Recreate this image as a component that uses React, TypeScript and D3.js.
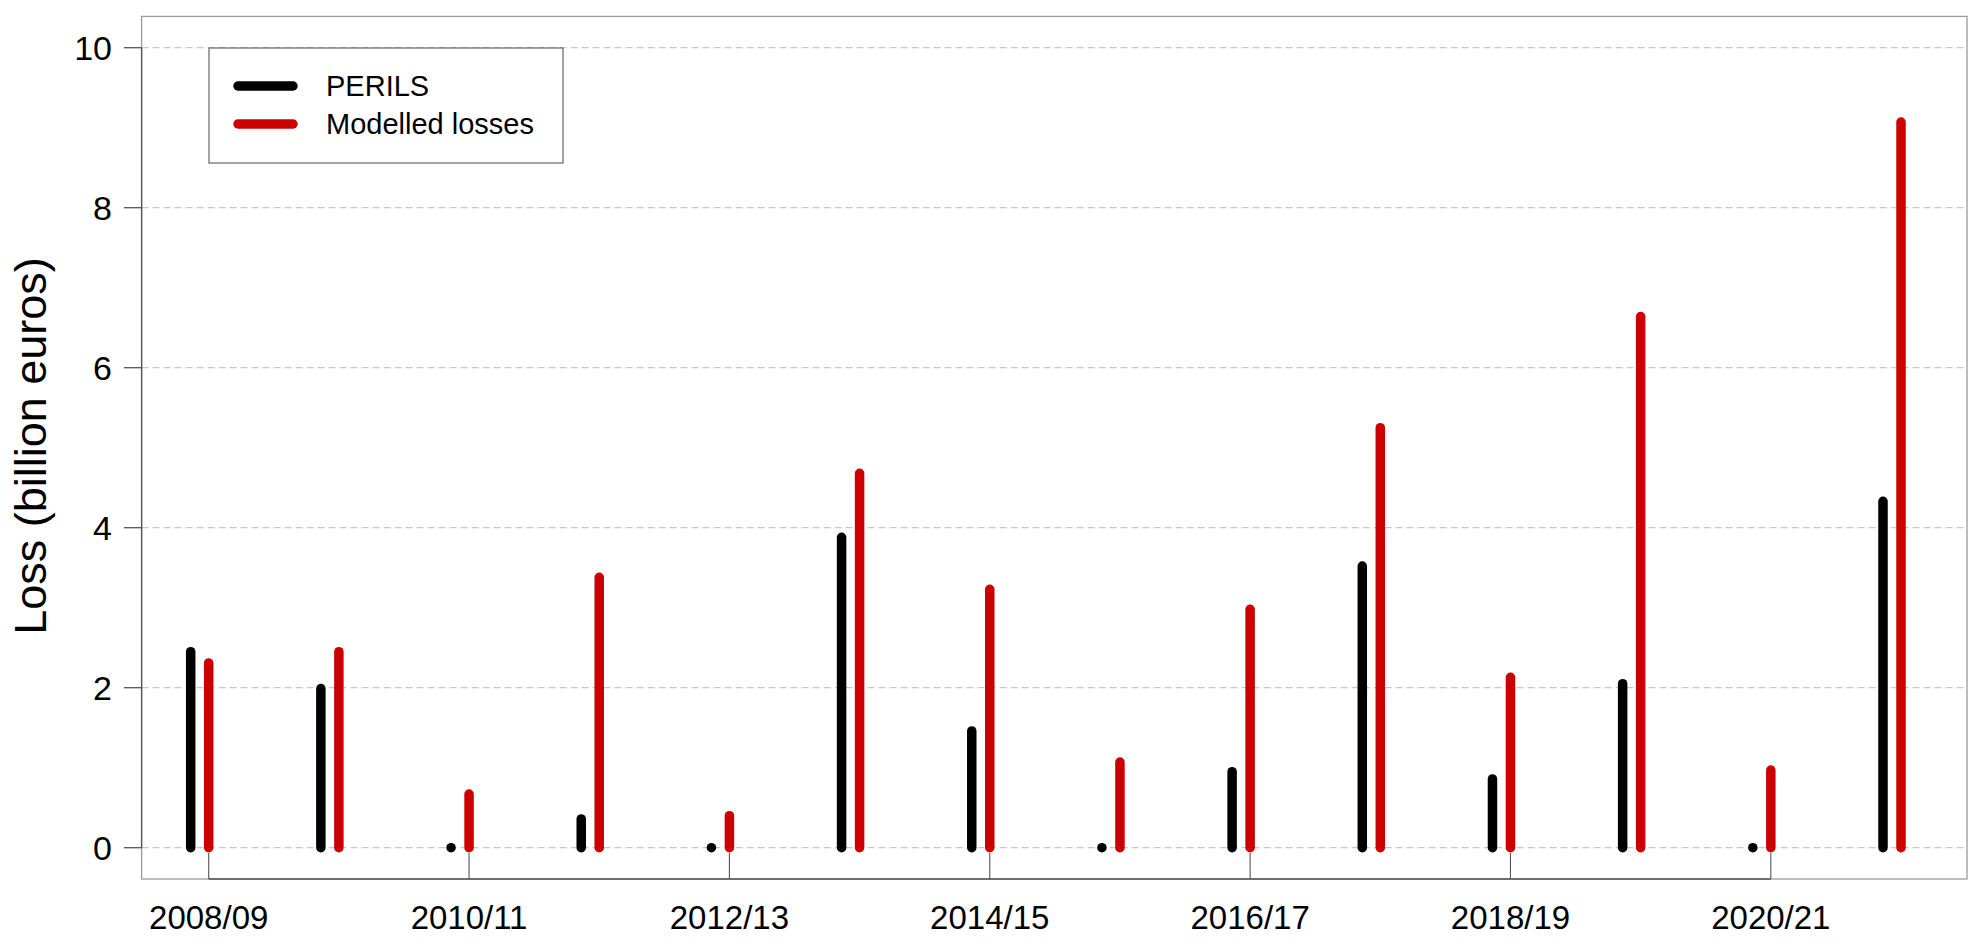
import React from 'react';
import { scaleLinear, scalePoint, line } from 'd3';

const seasons = ["2008/09", "2009/10", "2010/11", "2011/12", "2012/13", "2013/14", "2014/15",
    "2015/16", "2016/17", "2017/18", "2018/19", "2019/20", "2020/21", "2021/22"];
const perils = [2.45, 1.99, 0, 0.36, 0, 3.88, 1.46, 0, 0.95, 3.52, 0.86, 2.05, 0, 4.33];
const modelled = [2.31, 2.45, 0.67, 3.38, 0.40, 4.68, 3.23, 1.07, 2.98, 5.25, 2.13, 6.64, 0.97, 9.07];
const yTicks = [0, 2, 4, 6, 8, 10];
const xTickLabels = ["2008/09", "2010/11", "2012/13", "2014/15", "2016/17", "2018/19", "2020/21"];

const W = 1983, H = 949;
const box = { left: 141.6, right: 1967, top: 16.4, bottom: 879 };
const RED = "#CC0000";
const FONT = "Arial, 'Liberation Sans', Helvetica, sans-serif";

export default function App() {
    const xScale = scalePoint().domain(seasons).range([208.7, 1901]);
    const yScale = scaleLinear().domain([0, 10]).range([847.7, 47.7]);
    const offset = 18;
    const seg = line<[number, number]>().x(d => d[0]).y(d => d[1]);

    const stick = (x: number, v: number, color: string, key: string) => (
        <path key={key} d={seg([[x, yScale(0)], [x, yScale(v)]]) || ''} stroke={color}
            strokeWidth={9.5} strokeLinecap="round" fill="none" />
    );

    return (
        <svg width={W} height={H} style={{ position: 'absolute', left: 0, top: 0, background: '#fff' }}
            fontFamily={FONT}>
            {/* grid */}
            {yTicks.map(t => (
                <line key={'g' + t} x1={box.left} x2={box.right} y1={yScale(t)} y2={yScale(t)}
                    stroke="#C8C8C8" strokeWidth={1.3} strokeDasharray="7,4" />
            ))}
            {/* box */}
            <rect x={box.left} y={box.top} width={box.right - box.left} height={box.bottom - box.top}
                fill="none" stroke="#9a9a9a" strokeWidth={1.3} />
            {/* y axis */}
            <line x1={box.left} x2={box.left} y1={yScale(0)} y2={yScale(10)} stroke="#555" strokeWidth={1.3} />
            {yTicks.map(t => (
                <g key={'y' + t} transform={`translate(0, ${yScale(t)})`}>
                    <line x1={124} x2={box.left} stroke="#555" strokeWidth={1.3} />
                    <text x={112} dy="0.35em" textAnchor="end" fontSize={34}>{t}</text>
                </g>
            ))}
            {/* x axis */}
            <line x1={xScale(xTickLabels[0])} x2={xScale(xTickLabels[xTickLabels.length - 1])}
                y1={box.bottom} y2={box.bottom} stroke="#555" strokeWidth={1.3} />
            {xTickLabels.map(s => (
                <g key={'x' + s} transform={`translate(${xScale(s)}, 0)`}>
                    <line y1={853} y2={box.bottom} stroke="#555" strokeWidth={1.1} />
                    <text y={929} textAnchor="middle" fontSize={33}>{s}</text>
                </g>
            ))}
            {/* y label */}
            <text transform="translate(46, 446) rotate(-90)" textAnchor="middle" fontSize={45}>Loss (billion euros)</text>
            {/* bars */}
            {seasons.map((s, i) => stick((xScale(s) as number) - offset, perils[i], '#000', 'p' + i))}
            {seasons.map((s, i) => stick(xScale(s) as number, modelled[i], RED, 'm' + i))}
            {/* legend */}
            <rect x={209} y={48} width={354} height={115} fill="#fff" stroke="#666" strokeWidth={1.2} />
            <line x1={238} x2={293} y1={86} y2={86} stroke="#000" strokeWidth={9.5} strokeLinecap="round" />
            <line x1={238} x2={293} y1={124} y2={124} stroke={RED} strokeWidth={9.5} strokeLinecap="round" />
            <text x={326} y={86} dy="0.35em" fontSize={29}>PERILS</text>
            <text x={326} y={124} dy="0.35em" fontSize={29}>Modelled losses</text>
        </svg>
    );
}
